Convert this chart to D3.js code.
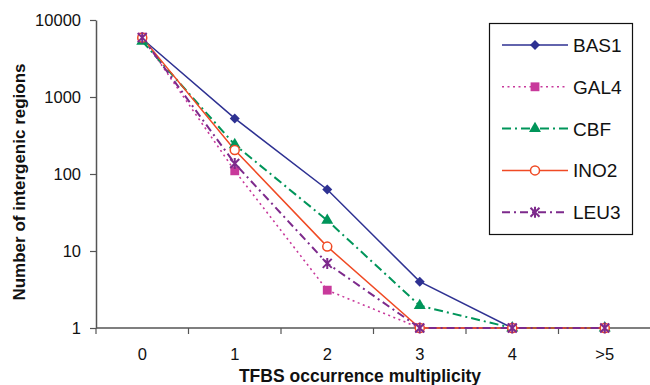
<!DOCTYPE html>
<html><head><meta charset="utf-8">
<script src="https://cdn.jsdelivr.net/npm/d3@7/dist/d3.min.js"></script>
<style>body{margin:0;background:#fff}svg{display:block}text{font-family:Arial,"Liberation Sans",sans-serif}</style>
</head><body><svg id="c" width="650" height="385"></svg>
<script>
const categories = ["0","1","2","3","4",">5"];
const seriesNames = ["BAS1","GAL4","CBF","INO2","LEU3"];
const BAS1 = [5700, 527, 63, 4.0, 1, 1];
const GAL4 = [6000, 110, 3.1, 1, 1, 1];
const CBF  = [5300, 240, 25, 1.95, 1, 1];
const INO2 = [5900, 205, 11.4, 1, 1, 1];
const LEU3 = [5900, 137, 6.9, 1, 1, 1];
const yTicks = [1, 10, 100, 1000, 10000];

const seriesData = [BAS1, GAL4, CBF, INO2, LEU3];
const styles = [
  {color:"#2e3192", dash:null, w:1.5, marker:"diamond"},
  {color:"#c8399b", dash:"2,3.5", w:1.6, marker:"square"},
  {color:"#00955a", dash:"9,4,2,4", w:2, marker:"triangle"},
  {color:"#f04a24", dash:null, w:1.5, marker:"circle"},
  {color:"#7d2a8c", dash:"8,4,2,4", w:2, marker:"star"}
];

const svg = d3.select("#c");
const x = d3.scaleBand().domain(categories).range([96, 651]);
const y = d3.scaleLog().domain([1, 10000]).range([328, 20]);
const axisColor = "#555";

// axes
const yAxis = svg.append("g").attr("transform","translate(96,0)")
  .call(d3.axisLeft(y).tickValues(yTicks).tickFormat(d3.format("d")).tickSize(6).tickSizeOuter(0));
yAxis.select(".domain").attr("stroke",axisColor).attr("stroke-width",1.5);
yAxis.selectAll(".tick line").attr("stroke",axisColor).attr("stroke-width",1.2);
yAxis.selectAll(".tick text").attr("font-size",16.5).attr("fill","#111").attr("x",-15);

const xAxisG = svg.append("g").attr("transform","translate(0,328)");
xAxisG.append("line").attr("x1",96).attr("x2",650).attr("stroke",axisColor).attr("stroke-width",1.5);
const bounds = categories.map(c => x(c)).concat([x(categories[categories.length-1]) + x.bandwidth()]);
xAxisG.selectAll(".tk").data(bounds).enter().append("line")
  .attr("x1",d=>d).attr("x2",d=>d).attr("y1",0).attr("y2",6)
  .attr("stroke",axisColor).attr("stroke-width",1.2);
xAxisG.selectAll(".tl").data(categories).enter().append("text")
  .attr("x",d=>x(d)+x.bandwidth()/2).attr("y",32).attr("text-anchor","middle")
  .attr("font-size",16.5).attr("fill","#111").text(d=>d);

// titles
svg.append("text").attr("x",360).attr("y",382).attr("text-anchor","middle")
  .attr("font-size",17.5).attr("font-weight","bold").attr("fill","#111").text("TFBS occurrence multiplicity");
svg.append("text").attr("transform","translate(25,182) rotate(-90)").attr("text-anchor","middle")
  .attr("font-size",17).attr("font-weight","bold").attr("fill","#111").text("Number of intergenic regions");

function drawMarker(g, type, color, cx, cy) {
  if (type === "diamond") {
    g.append("path").attr("d", d3.symbol().type(d3.symbolSquare).size(50)())
      .attr("transform",`translate(${cx},${cy}) rotate(45)`).attr("fill",color);
  } else if (type === "square") {
    g.append("path").attr("d", d3.symbol().type(d3.symbolSquare).size(78)())
      .attr("transform",`translate(${cx},${cy})`).attr("fill",color);
  } else if (type === "triangle") {
    g.append("path").attr("d", d3.symbol().type(d3.symbolTriangle).size(62)())
      .attr("transform",`translate(${cx},${cy})`).attr("fill",color);
  } else if (type === "circle") {
    g.append("circle").attr("cx",cx).attr("cy",cy).attr("r",4.5)
      .attr("fill","#fff").attr("stroke",color).attr("stroke-width",1.5);
  } else if (type === "star") {
    g.append("path").attr("d","M-4.5,-4.5L4.5,4.5M-4.5,4.5L4.5,-4.5M0,-5.5L0,5.5")
      .attr("transform",`translate(${cx},${cy})`).attr("stroke",color).attr("stroke-width",2).attr("fill","none");
  }
}

const line = d3.line().x((d,i)=>x(categories[i])+x.bandwidth()/2).y(d=>y(d));
seriesData.forEach((vals, si) => {
  const s = styles[si];
  svg.append("path").datum(vals).attr("d", line).attr("fill","none")
    .attr("stroke", s.color).attr("stroke-width", s.w)
    .attr("stroke-dasharray", s.dash);
});
seriesData.forEach((vals, si) => {
  const s = styles[si];
  const g = svg.append("g");
  vals.forEach((v,i) => drawMarker(g, s.marker, s.color, x(categories[i])+x.bandwidth()/2, y(v)));
});

// legend
const lg = svg.append("g");
lg.append("rect").attr("x",489.5).attr("y",23.5).attr("width",143).attr("height",211)
  .attr("fill","#fff").attr("stroke","#111").attr("stroke-width",1.2);
seriesNames.forEach((name, i) => {
  const s = styles[i];
  const ly = 45 + i*41.8;
  lg.append("line").attr("x1",502).attr("x2",568).attr("y1",ly).attr("y2",ly)
    .attr("stroke",s.color).attr("stroke-width",s.w).attr("stroke-dasharray",s.dash);
  drawMarker(lg, s.marker, s.color, 535, ly);
  lg.append("text").attr("x",573).attr("y",ly+7).attr("font-size",19).attr("fill","#111").text(name);
});
</script></body></html>
